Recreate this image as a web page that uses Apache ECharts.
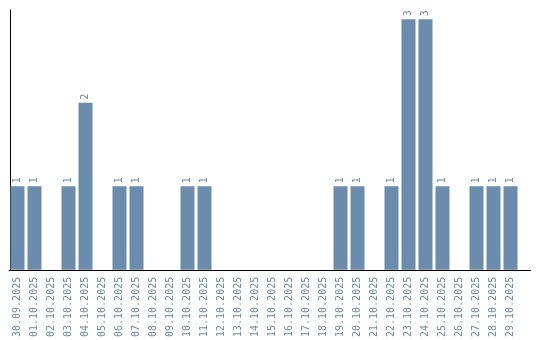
<!DOCTYPE html>
<html><head><meta charset="utf-8">
<script src="https://cdn.jsdelivr.net/npm/echarts@6/dist/echarts.min.js"></script>
<style>html,body{margin:0;padding:0;background:#fff}#c{width:540px;height:340px}</style>
</head><body><div id="c"></div>
<script>
const categories = ["30.09.2025","01.10.2025","02.10.2025","03.10.2025","04.10.2025","05.10.2025","06.10.2025","07.10.2025","08.10.2025","09.10.2025","10.10.2025","11.10.2025","12.10.2025","13.10.2025","14.10.2025","15.10.2025","16.10.2025","17.10.2025","18.10.2025","19.10.2025","20.10.2025","21.10.2025","22.10.2025","23.10.2025","24.10.2025","25.10.2025","26.10.2025","27.10.2025","28.10.2025","29.10.2025"];
const counts = [1,1,0,1,2,0,1,1,0,0,1,1,0,0,0,0,0,0,0,1,1,0,1,3,3,1,0,1,1,1];
const barColor = '#6b8cac';
const chart = echarts.init(document.getElementById('c'), null, {renderer:'canvas'});
chart.setOption({
  animation:false,
  grid:{left:9, top:10, width:510, height:260},
  xAxis:{type:'category', data:categories,
    axisLine:{lineStyle:{color:'#000', width:1}}, axisTick:{show:false},
    axisLabel:{rotate:90, interval:0, margin:7, color:barColor, fontSize:10, fontFamily:'DejaVu Sans Mono'}},
  yAxis:{type:'value', min:0, max:3.11, offset:-1,
    axisLine:{show:true, lineStyle:{color:'#000', width:1}}, axisTick:{show:false},
    axisLabel:{show:false}, splitLine:{show:false}},
  series:[{type:'bar', data:counts.map(v => v === 0 ? null : v), barWidth:14,
    itemStyle:{color:barColor},
    label:{show:true, position:'top', rotate:90, distance:3, align:'left', verticalAlign:'middle',
      color:barColor, fontSize:10, fontFamily:'DejaVu Sans Mono'}}],
  graphic:[{type:'line', shape:{x1:518, y1:270.5, x2:531, y2:270.5}, style:{stroke:'#000', lineWidth:1}, silent:true}]
});
</script></body></html>
